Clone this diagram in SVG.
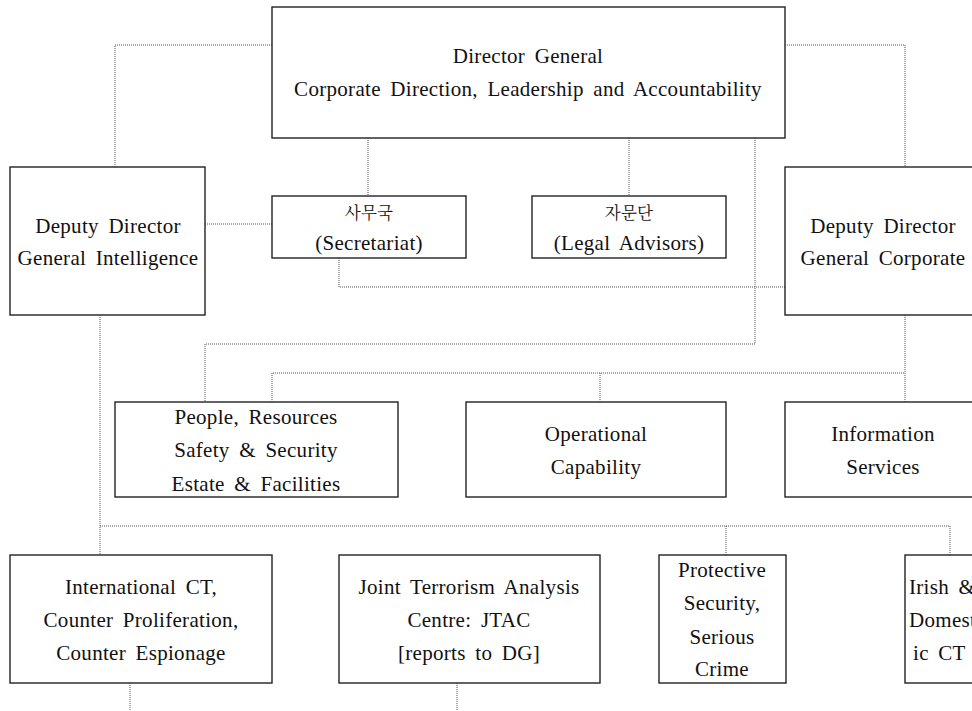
<svg xmlns="http://www.w3.org/2000/svg" width="972" height="711" viewBox="0 0 972 711">
<style>
.box{fill:#fff;stroke:#222;stroke-width:1.4}
.c{fill:none;stroke:#555;stroke-width:1;stroke-dasharray:1,1}
</style>
<rect width="972" height="711" fill="#fff"/>
<g id="connectors">
<polyline class="c" points="272,45 115,45 115,167"/>
<polyline class="c" points="785,45 905,45 905,167"/>
<line class="c" x1="368" y1="138" x2="368" y2="196"/>
<line class="c" x1="629" y1="138" x2="629" y2="196"/>
<line class="c" x1="205" y1="224" x2="272" y2="224"/>
<polyline class="c" points="339,258 339,287 785,287"/>
<polyline class="c" points="755,138 755,344 205,344 205,402"/>
<line class="c" x1="905" y1="315" x2="905" y2="402"/>
<polyline class="c" points="272,402 272,373 905,373"/>
<line class="c" x1="600" y1="373" x2="600" y2="402"/>
<line class="c" x1="100" y1="315" x2="100" y2="555"/>
<polyline class="c" points="100,526 950,526 950,555"/>
<line class="c" x1="726" y1="526" x2="726" y2="555"/>
<line class="c" x1="130" y1="683" x2="130" y2="711"/>
<line class="c" x1="457" y1="683" x2="457" y2="711"/>
</g>
<g id="nodes" fill="#111" text-anchor="middle" font-family="Liberation Serif" font-size="21" word-spacing="4" letter-spacing="0.3">
<g id="dg">
<rect class="box" x="272" y="7" width="513" height="131"/>
<text x="528" y="63">Director General</text>
<text x="528" y="96">Corporate Direction, Leadership and Accountability</text>
</g>
<g id="ddgi">
<rect class="box" x="10" y="167" width="195" height="148"/>
<text x="108" y="233">Deputy Director</text>
<text x="108" y="265">General Intelligence</text>
</g>
<g id="secretariat">
<rect class="box" x="272" y="196" width="194" height="62"/>
<text font-family="Noto Serif CJK KR" font-size="16.5" x="369" y="219">사무국</text>
<text x="369" y="250">(Secretariat)</text>
</g>
<g id="legal">
<rect class="box" x="532" y="196" width="194" height="62"/>
<text font-family="Noto Serif CJK KR" font-size="16.5" x="629" y="219">자문단</text>
<text x="629" y="250">(Legal Advisors)</text>
</g>
<g id="ddgc">
<rect class="box" x="785" y="167" width="196" height="148"/>
<text x="883" y="233">Deputy Director</text>
<text x="883" y="265">General Corporate</text>
</g>
<g id="people">
<rect class="box" x="115" y="402" width="283" height="95"/>
<text x="256" y="424">People, Resources</text>
<text x="256" y="457">Safety &amp; Security</text>
<text x="256" y="491">Estate &amp; Facilities</text>
</g>
<g id="operational">
<rect class="box" x="466" y="402" width="260" height="95"/>
<text x="596" y="441">Operational</text>
<text x="596" y="474">Capability</text>
</g>
<g id="information">
<rect class="box" x="785" y="402" width="196" height="95"/>
<text x="883" y="441">Information</text>
<text x="883" y="474">Services</text>
</g>
<g id="international">
<rect class="box" x="10" y="555" width="262" height="128"/>
<text x="141" y="594">International CT,</text>
<text x="141" y="627">Counter Proliferation,</text>
<text x="141" y="660">Counter Espionage</text>
</g>
<g id="jtac">
<rect class="box" x="339" y="555" width="261" height="128"/>
<text x="469" y="594">Joint Terrorism Analysis</text>
<text x="469" y="627">Centre: JTAC</text>
<text x="469" y="660">[reports to DG]</text>
</g>
<g id="protective">
<rect class="box" x="659" y="555" width="127" height="128"/>
<text x="722" y="577">Protective</text>
<text x="722" y="610">Security,</text>
<text x="722" y="644">Serious</text>
<text x="722" y="676">Crime</text>
</g>
<g id="irish" text-anchor="start">
<rect class="box" x="905" y="555" width="80" height="128"/>
<text x="909" y="594">Irish &amp;</text>
<text x="909" y="627">Domest</text>
<text x="913" y="660">ic CT</text>
</g>
</g>
</svg>
